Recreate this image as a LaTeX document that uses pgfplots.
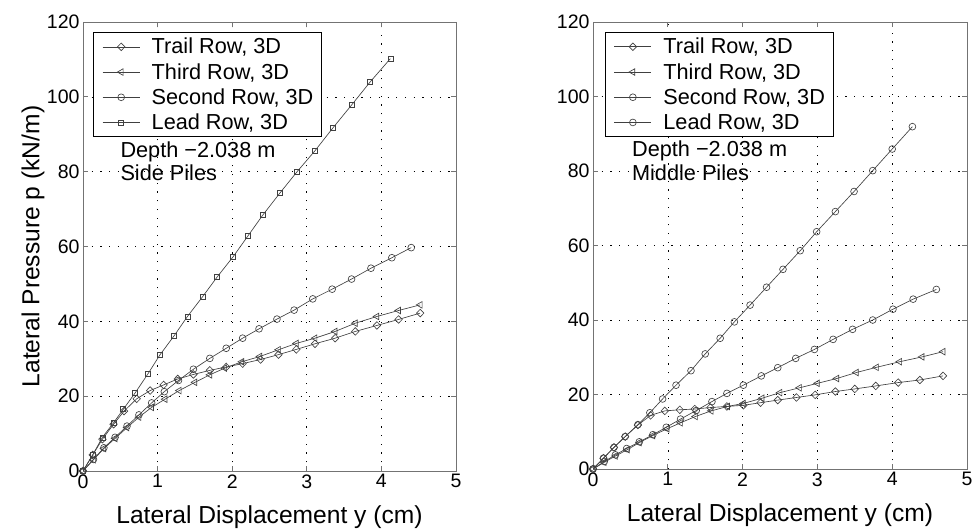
\documentclass[border=0pt]{standalone}
\usepackage{fontspec}
\setmainfont{Liberation Sans}
\usepackage{pgfplots}
\pgfplotsset{compat=1.18}
\definecolor{linegray}{gray}{0.25}
\definecolor{boxgray}{gray}{0.45}
\pgfplotsset{
  mystyle/.style={
    scale only axis,
    xmin=0, xmax=5, ymin=0, ymax=120,
    xtick={0,1,2,3,4,5}, ytick={0,20,40,60,80,100,120},
    grid=major,
    major grid style={black, line width=0.6pt, dash pattern=on 1.2pt off 7.5pt},
    axis line style={boxgray, line width=0.9pt},
    tick style={boxgray, line width=0.8pt},
    tick align=inside, major tick length=5pt,
    /pgf/number format/assume math mode=true,
    ticklabel style={font=\fontsize{19.5}{22}\selectfont},
    label style={font=\fontsize{24.6}{28}\selectfont},
    xlabel={Lateral Displacement y (cm)},
    xlabel style={at={(axis description cs:0.5,-0.1025)}, anchor=center},
    legend cell align=left,
    legend style={font=\fontsize{21.7}{25.8}\selectfont, draw=black, line width=0.8pt,
      anchor=north west, inner xsep=6pt, inner ysep=3pt,
      nodes={inner ysep=2.5pt, inner xsep=2pt}, row sep=3pt, column sep=0pt},
    legend image code/.code={\path[draw=none, fill=none] (0pt,0pt) -- (50pt,0pt);\draw[mark repeat=2,mark phase=2,#1] plot coordinates {(3pt,0pt) (21.5pt,0pt) (40pt,0pt)};},
    every axis plot/.append style={linegray, line width=0.65pt},
    trail/.style={mark=diamond, mark size=3.8pt, mark options={xscale=1.3, solid}},
    third/.style={mark=triangle, mark size=3.8pt, mark options={rotate=90, solid}},
    second/.style={mark=o, mark size=3.4pt},
    leadsq/.style={mark=square, mark size=2.5pt},
  }
}
\begin{document}
\begin{tikzpicture}
\path[use as bounding box] (0,0) rectangle (974pt,531pt);
% ---------------- Left panel ----------------
\begin{axis}[mystyle,
  at={(83pt,60pt)}, anchor=south west, width=373pt, height=449pt,
  ylabel={Lateral Pressure p (kN/m)},
  ylabel style={at={(axis description cs:-0.134,0.5)}, anchor=center, rotate=0},
  legend style={at={(axis description cs:0.0276,0.977)}},
]
\addplot[trail] coordinates {(0,0) (0.13,4.3) (0.26,8.5) (0.41,12.5) (0.55,16.0) (0.72,19.3) (0.90,21.5) (1.08,23.0) (1.27,24.6) (1.48,25.8) (1.70,26.9) (1.92,27.8) (2.14,28.7) (2.38,29.8) (2.62,31.1) (2.86,32.5) (3.11,34.0) (3.38,35.5) (3.65,37.3) (3.94,38.9) (4.23,40.5) (4.52,42.2)};
\addlegendentry{Trail Row, 3D}
\addplot[third] coordinates {(0,0) (0.14,3.0) (0.28,6.0) (0.43,8.7) (0.59,11.6) (0.75,14.4) (0.92,17.0) (1.10,19.2) (1.29,21.5) (1.50,23.7) (1.70,25.7) (1.90,27.5) (2.13,29.2) (2.37,30.6) (2.62,32.4) (2.86,34.1) (3.11,35.5) (3.38,37.3) (3.65,39.5) (3.94,41.3) (4.23,42.9) (4.52,44.4)};
\addlegendentry{Third Row, 3D}
\addplot[second] coordinates {(0,0) (0.14,3.1) (0.28,6.2) (0.43,9.0) (0.59,12.0) (0.75,15.0) (0.92,18.2) (1.09,21.2) (1.28,24.2) (1.48,27.2) (1.70,30.1) (1.92,32.8) (2.14,35.5) (2.36,38.0) (2.60,40.6) (2.83,43.0) (3.08,46.0) (3.34,48.6) (3.60,51.3) (3.86,54.2) (4.14,57.0) (4.40,59.7)};
\addlegendentry{Second Row, 3D}
\addplot[leadsq] coordinates {(0,0) (0.13,4.3) (0.26,9.0) (0.41,12.9) (0.54,16.5) (0.70,20.9) (0.875,26.1) (1.03,31.0) (1.22,36.1) (1.40,41.3) (1.60,46.5) (1.80,51.9) (2.01,57.2) (2.21,62.8) (2.41,68.4) (2.64,74.3) (2.87,80.0) (3.11,85.6) (3.35,91.7) (3.60,97.8) (3.85,104.0) (4.12,110.2)};
\addlegendentry{Lead Row, 3D}
\node[anchor=west, font=\fontsize{21.7}{25}\selectfont, inner sep=0pt] at (axis cs:0.50,85.4) {Depth −2.038 m};
\node[anchor=west, font=\fontsize{21.7}{25}\selectfont, inner sep=0pt] at (axis cs:0.50,79.6) {Side Piles};
\end{axis}
% ---------------- Right panel ----------------
\begin{axis}[mystyle,
  at={(593pt,62pt)}, anchor=south west, width=374pt, height=447pt,
  legend style={at={(axis description cs:0.032,0.977)}},
]
\addplot[trail] coordinates {(0,0) (0.14,2.9) (0.28,5.8) (0.43,8.7) (0.60,11.8) (0.77,14.4) (0.96,15.6) (1.16,15.9) (1.36,16.1) (1.57,16.5) (1.79,16.8) (2.01,17.1) (2.24,17.8) (2.47,18.5) (2.72,19.2) (2.97,19.9) (3.24,20.8) (3.50,21.5) (3.78,22.3) (4.08,23.2) (4.37,23.9) (4.68,25.0)};
\addlegendentry{Trail Row, 3D}
\addplot[third] coordinates {(0,0) (0.15,1.8) (0.30,3.5) (0.46,5.2) (0.62,7.1) (0.80,9.0) (0.99,10.8) (1.17,12.4) (1.37,14.1) (1.58,15.6) (1.80,16.8) (2.01,17.6) (2.26,19.0) (2.50,20.5) (2.76,21.8) (3.00,23.0) (3.26,24.3) (3.52,25.9) (3.79,27.3) (4.10,28.8) (4.40,30.1) (4.68,31.5)};
\addlegendentry{Third Row, 3D}
\addplot[second] coordinates {(0,0) (0.15,2.0) (0.30,3.8) (0.45,5.5) (0.62,7.3) (0.80,9.2) (0.98,11.2) (1.17,13.4) (1.38,15.7) (1.59,18.1) (1.79,20.3) (2.01,22.5) (2.25,25.0) (2.47,27.2) (2.71,29.7) (2.96,32.1) (3.21,34.8) (3.47,37.5) (3.74,40.0) (4.01,42.9) (4.28,45.6) (4.59,48.2)};
\addlegendentry{Second Row, 3D}
\addplot[second] coordinates {(0,0) (0.14,2.9) (0.28,5.8) (0.43,8.7) (0.60,11.9) (0.76,15.1) (0.93,18.8) (1.11,22.5) (1.31,26.4) (1.50,30.9) (1.70,35.1) (1.89,39.5) (2.10,44.0) (2.32,48.8) (2.54,53.6) (2.77,58.6) (2.99,63.7) (3.24,69.1) (3.49,74.5) (3.74,80.1) (4.00,85.9) (4.27,91.9)};
\addlegendentry{Lead Row, 3D}
\node[anchor=west, font=\fontsize{21.7}{25}\selectfont, inner sep=0pt] at (axis cs:0.52,85.4) {Depth −2.038 m};
\node[anchor=west, font=\fontsize{21.7}{25}\selectfont, inner sep=0pt] at (axis cs:0.52,79.6) {Middle Piles};
\end{axis}
\end{tikzpicture}
\end{document}
